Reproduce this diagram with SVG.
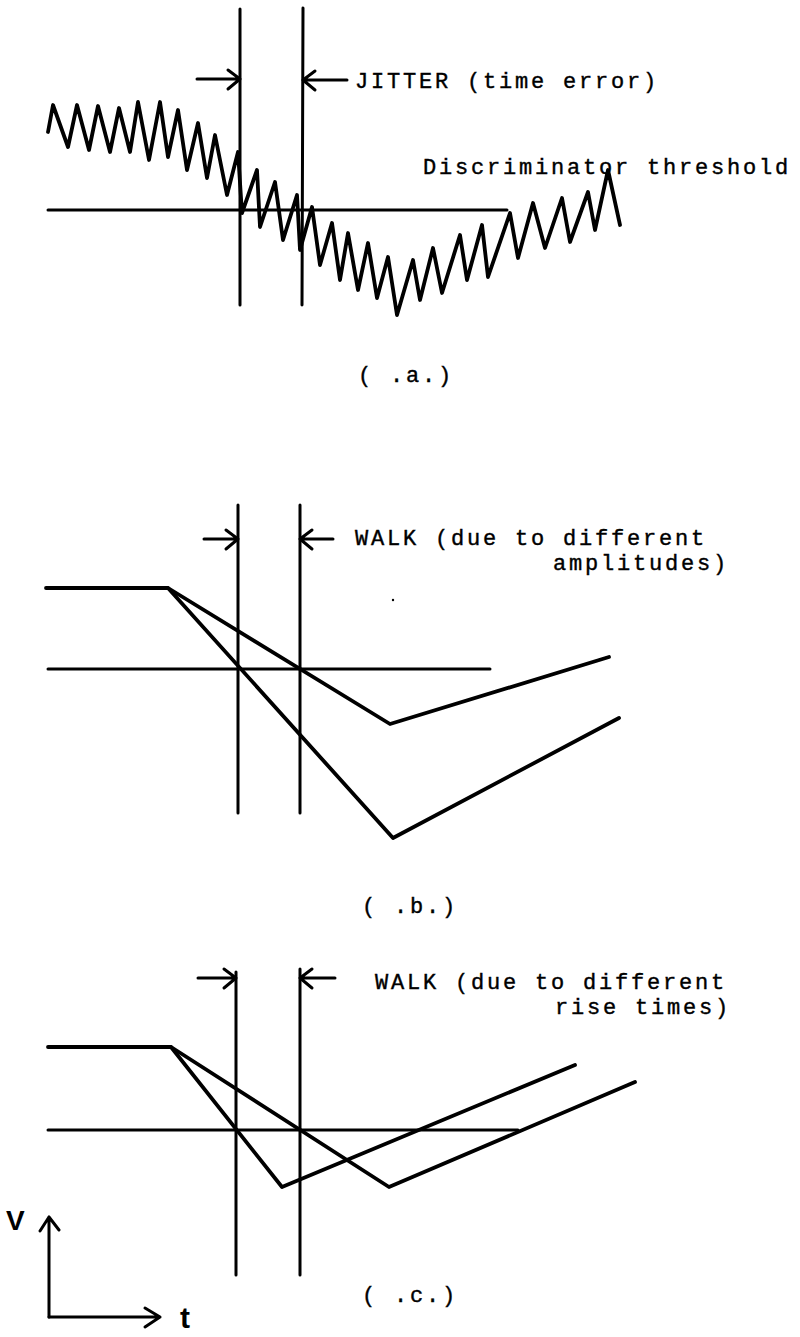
<svg xmlns="http://www.w3.org/2000/svg" width="800" height="1337" viewBox="0 0 800 1337">
<style>
.ln{stroke:#000;fill:none;stroke-width:3;stroke-linecap:round;stroke-linejoin:round}
.wv{stroke:#000;fill:none;stroke-width:3.8;stroke-linecap:round;stroke-linejoin:round}
.tx{font-family:"Liberation Mono","DejaVu Sans Mono",monospace;font-size:22px;letter-spacing:2.8px;fill:#000;stroke:#000;stroke-width:0.4}
.ax{font-family:"Liberation Sans","DejaVu Sans",sans-serif;font-weight:bold;fill:#000}
</style>
<rect width="800" height="1337" fill="#fff"/>
<g id="panel-a">
  <path class="ln" d="M240,9 L240,305 M303,8 L302,305"/>
  <path class="ln" d="M48,210 L507,210"/>
  <path class="ln" d="M197,79 L240,79 M240,79 L228,70 M240,79 L228,89"/>
  <path class="ln" d="M347,80 L303,80 M303,80 L315,71 M303,80 L315,90"/>
  <polyline class="wv" points="48,132 53,105 68,147 77,105 89,150 98,106 110,152 119,108 130,152 138,102 149,160 160,102 168,157 178,110 187,170 198,123 207,178 215,135 227,195 238,152 242,213 257,170 260,227 275,182 283,240 297,195 300,250 312,207 320,265 332,223 340,280 348,233 358,290 368,243 377,298 388,257 397,315 413,260 420,300 433,248 442,293 460,235 467,280 482,225 488,277 510,213 518,258 533,203 545,248 562,198 570,242 588,192 595,230 608,170 620,225"/>
  <text class="tx" x="355" y="88">JITTER (time error)</text>
  <text class="tx" x="423" y="174">Discriminator threshold</text>
  <text class="tx" x="358" y="382">( .a.)</text>
</g>
<g id="panel-b">
  <path class="ln" d="M238,505 L238,813 M300,505 L300,813"/>
  <path class="ln" d="M48,669 L490,669"/>
  <path class="ln" d="M204,539 L238,539 M238,539 L226,530 M238,539 L226,549"/>
  <path class="ln" d="M333,539 L300,539 M300,539 L312,530 M300,539 L312,549"/>
  <polyline class="wv" points="46,588 168,588 390,724 609,657"/>
  <polyline class="wv" points="168,588 393,838 619,718"/>
  <circle cx="393" cy="600" r="1.2" fill="#000"/>
  <text class="tx" x="355" y="545">WALK (due to different</text>
  <text class="tx" x="553" y="570">amplitudes)</text>
  <text class="tx" x="362" y="913">( .b.)</text>
</g>
<g id="panel-c">
  <path class="ln" d="M236,972 L236,1275 M300,969 L300,1275"/>
  <path class="ln" d="M48,1130 L518,1130"/>
  <path class="ln" d="M198,978 L236,978 M236,978 L224,969 M236,978 L224,988"/>
  <path class="ln" d="M335,978 L300,978 M300,978 L312,969 M300,978 L312,988"/>
  <polyline class="wv" points="48,1047 171,1047 282,1187 575,1065"/>
  <polyline class="wv" points="171,1047 389,1187 635,1082"/>
  <text class="tx" x="375" y="989">WALK (due to different</text>
  <text class="tx" x="555" y="1014">rise times)</text>
  <text class="tx" x="362" y="1302">( .c.)</text>
</g>
<g id="axes">
  <path class="ln" d="M49,1317 L49,1217 M49,1217 L40,1231 M49,1217 L59,1230"/>
  <path class="ln" d="M49,1317 L160,1317 M160,1317 L145,1308 M160,1317 L145,1327"/>
  <text class="ax" x="6" y="1230" font-size="28">V</text>
  <text class="ax" x="180" y="1328" font-size="30">t</text>
</g>
</svg>
